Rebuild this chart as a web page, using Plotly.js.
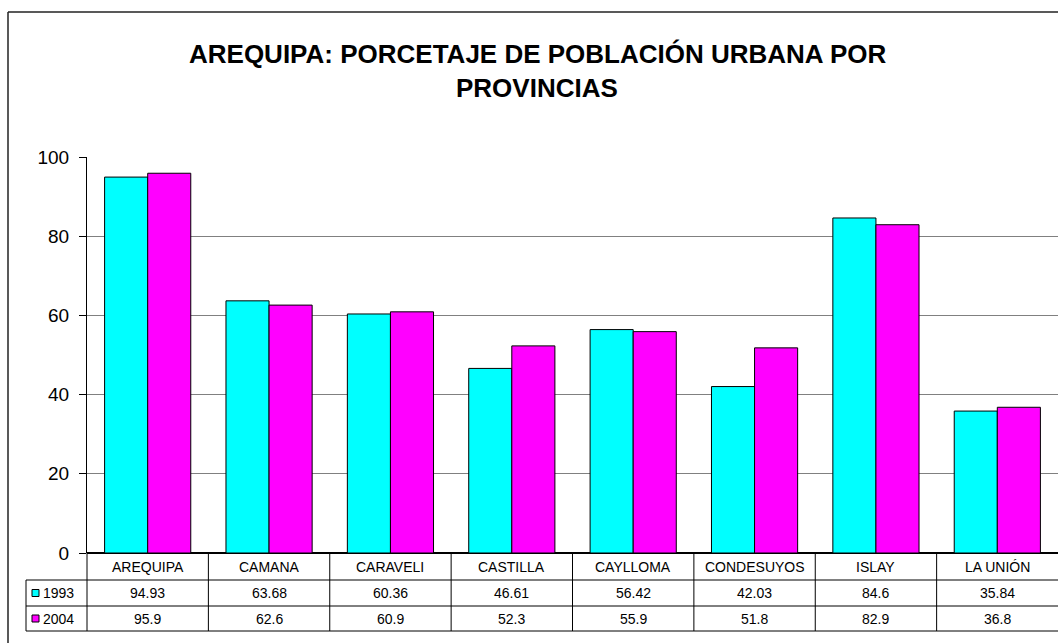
<!DOCTYPE html>
<html>
<head>
<meta charset="utf-8">
<script src="https://cdn.plot.ly/plotly-3.0.1.min.js"></script>
<style>
html,body{margin:0;padding:0;background:#fff;}
#chart{width:1058px;height:643px;}
</style>
</head>
<body>
<div id="chart"></div>
<script>
const categories = ["AREQUIPA","CAMANA","CARAVELI","CASTILLA","CAYLLOMA","CONDESUYOS","ISLAY","LA UNIÓN"];
const seriesNames = ["1993","2004"];
const values1993 = [94.93,63.68,60.36,46.61,56.42,42.03,84.6,35.84];
const values2004 = [95.9,62.6,60.9,52.3,55.9,51.8,82.9,36.8];
const seriesColors = ["#00FFFF","#FF00FF"];
const tickVals = [0,20,40,60,80,100];
const titleLines = ["AREQUIPA: PORCETAJE DE POBLACIÓN URBANA POR","PROVINCIAS"];

const W = 1058, H = 643;
const mL = 87, mR = 0, mT = 157, mB = 90;
const plotW = W - mL - mR, plotH = H - mT - mB;
const px2x = p => (p - mL) / plotW;           // pixel x -> paper x
const px2y = p => (H - mB - p) / plotH;       // pixel y -> paper y
const FONT = "Arial, 'Liberation Sans', sans-serif";

const xIdx = categories.map((c,i)=>i);
const allSeries = [values1993, values2004];

const traces = allSeries.map((vals,k)=>({
  type:"bar",
  x:xIdx,
  y:vals,
  name:seriesNames[k],
  marker:{color:seriesColors[k], line:{color:"#000", width:1}},
  hoverinfo:"x+y"
}));

const shapes = [];
const annotations = [];

// outer chart border (left and top)
shapes.push({type:"line", xref:"paper", yref:"paper", x0:px2x(8), x1:px2x(8), y0:px2y(12), y1:px2y(H+5), line:{color:"#222", width:1.5}});
shapes.push({type:"line", xref:"paper", yref:"paper", x0:px2x(8), x1:px2x(W+5), y0:px2y(12), y1:px2y(12), line:{color:"#222", width:1.5}});

// data table rows (pixel y)
const rowTop = H - mB;          // 553
const rowLines = [580, 606, 631];
rowLines.forEach(py=>{
  shapes.push({type:"line", xref:"paper", yref:"paper", x0:px2x(26), x1:px2x(W+5), y0:px2y(py), y1:px2y(py), line:{color:"#000", width:1}});
});
// left edges
shapes.push({type:"line", xref:"paper", yref:"paper", x0:0, x1:0, y0:0, y1:px2y(631), line:{color:"#000", width:1}});
shapes.push({type:"line", xref:"paper", yref:"paper", x0:px2x(26), x1:px2x(26), y0:px2y(580), y1:px2y(631), line:{color:"#000", width:1}});
// column separators
for(let i=1;i<categories.length;i++){
  shapes.push({type:"line", xref:"x", yref:"paper", x0:i-0.5, x1:i-0.5, y0:0, y1:px2y(631), line:{color:"#000", width:1}});
}

// category labels
const headerY = px2y((rowTop+580)/2);
const rowY = [px2y((580+606)/2), px2y((606+631)/2)];
categories.forEach((c,i)=>{
  annotations.push({xref:"x", yref:"paper", x:i, y:headerY, text:c, showarrow:false, xanchor:"center", yanchor:"middle", font:{family:FONT, size:14, color:"#000"}});
});
allSeries.forEach((vals,k)=>{
  vals.forEach((v,i)=>{
    annotations.push({xref:"x", yref:"paper", x:i, y:rowY[k], text:String(v), showarrow:false, xanchor:"center", yanchor:"middle", font:{family:FONT, size:14, color:"#000"}});
  });
  // legend key square
  shapes.push({type:"rect", xref:"paper", yref:"paper", x0:px2x(32), x1:px2x(39), y0:rowY[k]-3.5/plotH, y1:rowY[k]+3.5/plotH, fillcolor:seriesColors[k], line:{color:"#000", width:1}});
  annotations.push({xref:"paper", yref:"paper", x:px2x(41), y:rowY[k], text:seriesNames[k], showarrow:false, xanchor:"left", yanchor:"middle", font:{family:FONT, size:14, color:"#000"}});
});

// title lines
const titleY = [54, 88];
titleLines.forEach((t,j)=>{
  annotations.push({xref:"paper", yref:"paper", x:px2x(537), y:px2y(titleY[j]), text:"<b>"+t+"</b>", showarrow:false, xanchor:"center", yanchor:"middle", font:{family:FONT, size:26, color:"#000"}});
});

const layout = {
  width:W, height:H,
  margin:{l:mL, r:mR, t:mT, b:mB, pad:0},
  paper_bgcolor:"#fff", plot_bgcolor:"#fff",
  showlegend:false,
  barmode:"group",
  bargap:0.29,
  bargroupgap:0,
  xaxis:{range:[-0.5, categories.length-0.5], showticklabels:false, ticks:"", showgrid:false, zeroline:false, showline:false, fixedrange:true},
  yaxis:{range:[0,100], tickvals:tickVals, ticks:"outside", ticklen:7, tickcolor:"#000", tickwidth:1,
         showgrid:true, gridcolor:"#808080", gridwidth:1, showline:true, linecolor:"#000", linewidth:1,
         zeroline:true, zerolinecolor:"#000", zerolinewidth:1.5,
         tickfont:{family:FONT, size:19, color:"#000"}, ticklabelstandoff:6, fixedrange:true},
  shapes:shapes,
  annotations:annotations
};

Plotly.newPlot("chart", traces, layout, {displayModeBar:false, staticPlot:true});
</script>
</body>
</html>
